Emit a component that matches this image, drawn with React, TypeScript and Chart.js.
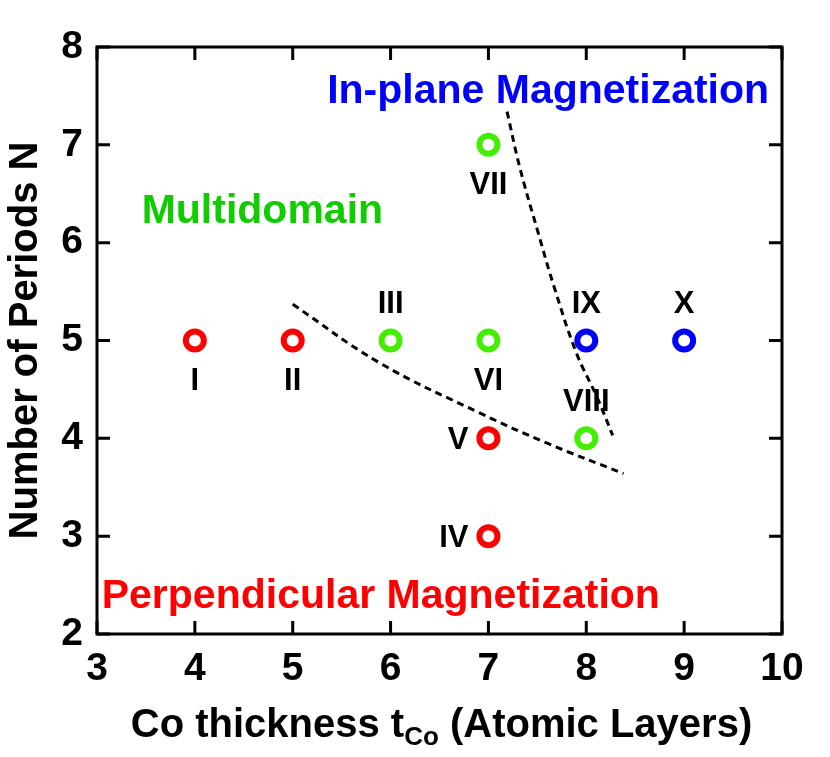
import React, { useEffect, useRef } from "react";
import { Chart, registerables } from "chart.js";

Chart.register(...registerables);

// ---- data ----
const perpX = [4, 5, 7, 7];
const perpY = [5, 5, 4, 3];
const perpLabels = ["I", "II", "V", "IV"];
const perpLabelSide = ["below", "below", "left", "left"];

const multiX = [6, 7, 7, 8];
const multiY = [5, 5, 7, 4];
const multiLabels = ["III", "VI", "VII", "VIII"];
const multiLabelSide = ["above", "below", "below", "above"];

const inplaneX = [8, 9];
const inplaneY = [5, 5];
const inplaneLabels = ["IX", "X"];
const inplaneLabelSide = ["above", "above"];

// boundary curves
const boundary1X = [5.0, 5.89, 6.91, 7.6, 8.38];
const boundary1Y = [5.37, 4.77, 4.26, 3.95, 3.64];
const boundary2X = [7.19, 7.32, 7.5, 7.68, 7.9, 8.11, 8.27];
const boundary2Y = [7.34, 6.77, 6.13, 5.52, 4.87, 4.42, 4.03];

const xTicks = [3, 4, 5, 6, 7, 8, 9, 10];
const yTicks = [2, 3, 4, 5, 6, 7, 8];

const regionTexts = ["In-plane Magnetization", "Multidomain", "Perpendicular Magnetization"];
const regionX = [7.61, 4.69, 5.9];
const regionY = [7.43, 6.2, 2.27];

const RED = "#ff0000";
const GREEN_PT = "#44ee00";
const GREEN_TXT = "#11cc00";
const BLUE = "#0000ff";
const regionColors = [BLUE, GREEN_TXT, RED];

const FONT = '"Liberation Sans", Arial, Helvetica, sans-serif';

const toPts = (xs: number[], ys: number[]) => xs.map((x, i) => ({ x, y: ys[i] }));

const decoPlugin = {
  id: "deco",
  afterDatasetsDraw(chart: any) {
    const { ctx, chartArea: ca, scales } = chart;
    const xs = scales.x;
    const ys = scales.y;
    ctx.save();
    // frame
    ctx.strokeStyle = "#000";
    ctx.lineWidth = 3;
    ctx.strokeRect(ca.left, ca.top, ca.right - ca.left, ca.bottom - ca.top);
    // inside ticks
    const TL = 13;
    ctx.beginPath();
    xTicks.forEach((v) => {
      const px = xs.getPixelForValue(v);
      ctx.moveTo(px, ca.bottom);
      ctx.lineTo(px, ca.bottom - TL);
      ctx.moveTo(px, ca.top);
      ctx.lineTo(px, ca.top + TL);
    });
    yTicks.forEach((v) => {
      const py = ys.getPixelForValue(v);
      ctx.moveTo(ca.left, py);
      ctx.lineTo(ca.left + TL, py);
      ctx.moveTo(ca.right, py);
      ctx.lineTo(ca.right - TL, py);
    });
    ctx.stroke();

    // point labels
    ctx.fillStyle = "#000";
    ctx.font = `bold 31px ${FONT}`;
    ctx.textBaseline = "middle";
    const drawLabels = (xv: number[], yv: number[], labs: string[], sides: string[]) => {
      xv.forEach((x, i) => {
        const px = xs.getPixelForValue(x);
        const py = ys.getPixelForValue(yv[i]);
        const s = sides[i];
        if (s === "above") {
          ctx.textAlign = "center";
          ctx.fillText(labs[i], px, py - 36);
        } else if (s === "below") {
          ctx.textAlign = "center";
          ctx.fillText(labs[i], px, py + 41);
        } else {
          ctx.textAlign = "right";
          ctx.fillText(labs[i], px - 20, py + 2);
        }
      });
    };
    drawLabels(perpX, perpY, perpLabels, perpLabelSide);
    drawLabels(multiX, multiY, multiLabels, multiLabelSide);
    drawLabels(inplaneX, inplaneY, inplaneLabels, inplaneLabelSide);

    // region texts
    ctx.font = `bold 41px ${FONT}`;
    ctx.textAlign = "center";
    ctx.textBaseline = "alphabetic";
    regionTexts.forEach((t, i) => {
      ctx.fillStyle = regionColors[i];
      ctx.fillText(t, xs.getPixelForValue(regionX[i]), ys.getPixelForValue(regionY[i]));
    });

    // x-axis title with subscript
    const main1 = "Co thickness t";
    const sub = "Co";
    const main2 = " (Atomic Layers)";
    const fMain = `bold 40px ${FONT}`;
    const fSub = `bold 26px ${FONT}`;
    ctx.fillStyle = "#000";
    ctx.textAlign = "left";
    ctx.textBaseline = "alphabetic";
    ctx.font = fMain;
    const w1 = ctx.measureText(main1).width;
    const w3 = ctx.measureText(main2).width;
    ctx.font = fSub;
    const w2 = ctx.measureText(sub).width;
    const total = w1 + w2 + w3;
    const cx = (ca.left + ca.right) / 2 + 2;
    let x0 = cx - total / 2;
    const base = 737;
    ctx.font = fMain;
    ctx.fillText(main1, x0, base);
    x0 += w1;
    ctx.font = fSub;
    ctx.fillText(sub, x0, base + 8);
    x0 += w2;
    ctx.font = fMain;
    ctx.fillText(main2, x0, base);
    ctx.restore();
  },
};

export default function App() {
  const ref = useRef<HTMLCanvasElement | null>(null);
  useEffect(() => {
    document.body.style.margin = "0";
    const canvas = ref.current!;
    const pointDs = (xs: number[], ys: number[], color: string) => ({
      type: "scatter" as const,
      data: toPts(xs, ys),
      pointRadius: 9,
      pointHoverRadius: 9,
      pointBorderWidth: 6,
      pointBorderColor: color,
      pointBackgroundColor: "#ffffff",
      backgroundColor: "#ffffff",
      borderColor: color,
      showLine: false,
    });
    const lineDs = (xs: number[], ys: number[]) => ({
      type: "scatter" as const,
      data: toPts(xs, ys),
      showLine: true,
      pointRadius: 0,
      borderColor: "#000",
      borderWidth: 3,
      borderDash: [7, 5],
      tension: 0.4,
      fill: false,
    });
    const chart = new Chart(canvas, {
      type: "scatter",
      data: {
        datasets: [
          lineDs(boundary1X, boundary1Y),
          lineDs(boundary2X, boundary2Y),
          pointDs(perpX, perpY, RED),
          pointDs(multiX, multiY, GREEN_PT),
          pointDs(inplaneX, inplaneY, BLUE),
        ] as any,
      },
      options: {
        responsive: false,
        animation: false,
        events: [],
        layout: { padding: { top: 47, right: 48, left: 0, bottom: 0 } },
        plugins: { legend: { display: false }, tooltip: { enabled: false } },
        scales: {
          x: {
            type: "linear",
            min: 3,
            max: 10,
            grid: { display: false, drawTicks: false },
            border: { display: false },
            ticks: {
              stepSize: 1,
              padding: 12,
              color: "#000",
              font: { family: FONT, size: 39, weight: "bold" },
            },
            afterFit: (s: any) => {
              s.height = 123;
            },
          },
          y: {
            type: "linear",
            min: 2,
            max: 8,
            grid: { display: false, drawTicks: false },
            border: { display: false },
            ticks: {
              stepSize: 1,
              padding: 14,
              color: "#000",
              font: { family: FONT, size: 39, weight: "bold" },
            },
            title: {
              display: true,
              text: "Number of Periods N",
              color: "#000",
              font: { family: FONT, size: 40, weight: "bold" },
              padding: { top: 2, bottom: 0 },
            },
            afterFit: (s: any) => {
              s.width = 97;
            },
          },
        },
      } as any,
      plugins: [decoPlugin],
    });
    return () => chart.destroy();
  }, []);
  return <canvas ref={ref} width={830} height={757} style={{ display: "block", width: 830, height: 757 }} />;
}
